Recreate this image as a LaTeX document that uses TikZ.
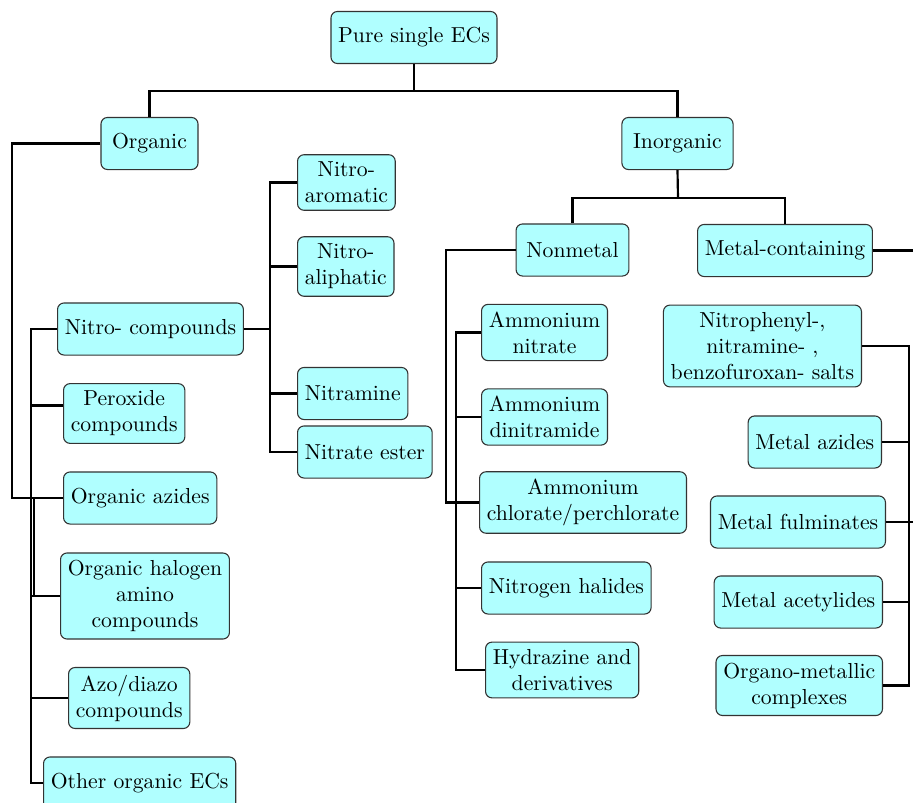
\documentclass[tikz,border=0pt]{standalone}
\usetikzlibrary{calc}
\definecolor{boxfill}{RGB}{176,255,255}
\tikzset{
  box/.style={draw=black!80, line width=0.5pt, fill=boxfill, rounded corners=3pt,
    align=center, minimum height=24pt, inner sep=3.33pt},
  link/.style={draw=black, line width=1pt},
}
\begin{document}
\begin{tikzpicture}[x=0.4608pt, y=-0.4608pt]
\useasboundingbox (0,0) rectangle (913,803);
\clip (0,0) rectangle (913,803);

% ---- nodes ----
\node[box] (root) at (414,37.5) {Pure single ECs};
\node[box, minimum width=44.7pt] (org) at (149.5,143.5) {Organic};
\node[box, minimum width=51.2pt] (inorg) at (677.5,143.5) {Inorganic};

\node[box, anchor=west] (naro) at (297,182.5) {Nitro-\\aromatic};
\node[box, anchor=west] (nali) at (297,266.5) {Nitro-\\aliphatic};
\node[box, anchor=west] (nam) at (297,393.5) {Nitramine};
\node[box, anchor=west] (nest) at (297,452) {Nitrate ester};

\node[box, anchor=west] (ncomp) at (57,329) {Nitro- compounds};
\node[box, anchor=west] (perox) at (63,413.5) {Peroxide\\compounds};
\node[box, anchor=west] (azid) at (63,498) {Organic azides};
\node[box, anchor=west] (halo) at (60,596) {Organic halogen\\amino\\compounds};
\node[box, anchor=west] (azo) at (68,698) {Azo/diazo\\compounds};
\node[box, anchor=west] (other) at (43,783) {Other organic ECs};

\node[box, minimum width=52pt] (nonm) at (572.5,250) {Nonmetal};
\node[box] (metc) at (785,250.5) {Metal-containing};

\node[box, anchor=west] (anit) at (481,332.5) {Ammonium\\nitrate};
\node[box, anchor=west] (adin) at (481,417) {Ammonium\\dinitramide};
\node[box, anchor=west] (achl) at (479,502.5) {Ammonium\\chlorate/perchlorate};
\node[box, anchor=west] (nhal) at (481,588) {Nitrogen halides};
\node[box, anchor=west] (hydr) at (485,670) {Hydrazine and\\derivatives};

\node[box, anchor=east] (nsalt) at (862,346) {Nitrophenyl-,\\nitramine- ,\\benzofuroxan- salts};
\node[box, anchor=east] (mazi) at (882,442) {Metal azides};
\node[box, anchor=east] (mful) at (886,522) {Metal fulminates};
\node[box, anchor=east] (macet) at (883,602) {Metal acetylides};
\node[box, anchor=east] (morg) at (883,685.5) {Organo-metallic\\complexes};

% ---- routing points ----
\coordinate (topbar) at (414,91);
\coordinate (ibar) at (678,198);
\coordinate (oloop) at (12,0);
\coordinate (ospine) at (31,0);
\coordinate (ospineb) at (34,0);
\coordinate (nspine) at (270,0);
\coordinate (nmloop) at (446,0);
\coordinate (nmspine) at (456,0);
\coordinate (mspine) at (909,0);
\coordinate (rim) at (925,0);

% ---- top levels ----
\draw[link] (root.south) -- (topbar);
\draw[link] (org.north) |- (topbar) -| (inorg.north);
\draw[link] (inorg.south) -- (ibar);
\draw[link] (nonm.north) |- (ibar) -| (metc.north);

% ---- organic branch ----
\draw[link] (org.west) -| (oloop |- azid) -- (azid.west);
\draw[link] (ncomp.west) -| (ospine |- other) -- (other.west);
\draw[link] ($(perox.west)+(0,-8)$) -- (ospine |- {$(perox.west)+(0,-8)$});
\foreach \n in {azid, halo, azo}
  \draw[link] (\n.west) -- (ospine |- \n.west);
\draw[link] (ospineb |- azid) -- (ospineb |- halo);

% ---- nitro compounds ----
\draw[link] (ncomp.east) -- (nspine |- ncomp);
\draw[link] (naro.west) -| (nspine |- nest) -- (nest.west);
\foreach \n in {nali, nam}
  \draw[link] (\n.west) -- (nspine |- \n.west);

% ---- nonmetal ----
\draw[link] (nonm.west) -| (nmloop |- achl) -- (achl.west);
\draw[link] (anit.west) -| (nmspine |- hydr) -- (hydr.west);
\foreach \n in {adin, nhal}
  \draw[link] (\n.west) -- (nmspine |- \n.west);

% ---- metal-containing ----
\draw[link] (metc.east) -- (rim |- metc.east);
\draw[link] (nsalt.east) -| (mspine |- morg) -- (morg.east);
\foreach \n in {mazi, macet}
  \draw[link] (\n.east) -- (mspine |- \n.east);
\draw[link] (mful.east) -- (rim |- mful.east);
\end{tikzpicture}
\end{document}
